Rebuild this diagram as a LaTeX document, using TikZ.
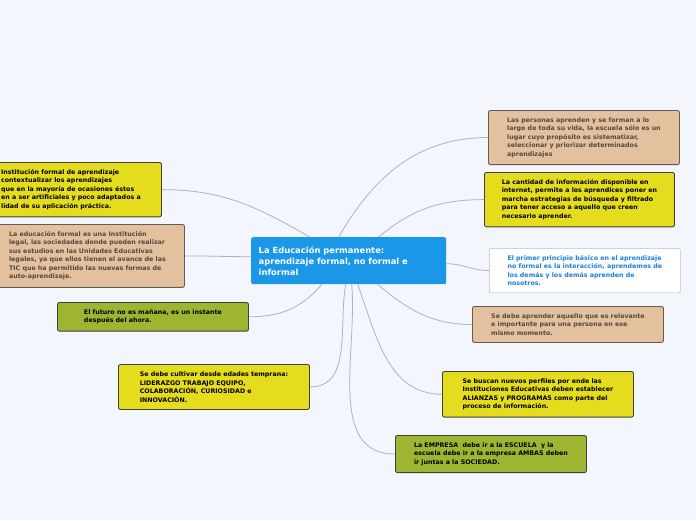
\documentclass[tikz,border=0pt]{standalone}
\usepackage{fontspec}
\setmainfont{DejaVu Sans}
\definecolor{bgBlue}{HTML}{F3F6FD}
\definecolor{mainBlue}{HTML}{1A97E6}
\definecolor{tanFill}{HTML}{E3C19F}
\definecolor{yelFill}{HTML}{E6DC1E}
\definecolor{oliveFill}{HTML}{9DB531}
\definecolor{textGray}{HTML}{54493F}
\definecolor{linkBlue}{HTML}{1A7FD8}

\begin{document}
\begin{tikzpicture}[
    x=1pt, y=-1pt,
    idea/.style={rectangle, draw=black!75, rounded corners=2pt, line width=0.9pt, anchor=north west, align=left, inner sep=7pt, font=\fontsize{6.3}{8.5}\selectfont\bfseries},
    tanidea/.style={idea, fill=tanFill, text=textGray, draw=textGray!90},
    yelidea/.style={idea, fill=yelFill},
    oliveidea/.style={idea, fill=oliveFill},
    link/.style={draw=black!30, line width=0.8pt},
]
    % Canvas
    \fill[bgBlue] (0,0) rectangle (696,520);
    \useasboundingbox (0,0) rectangle (696,520);

    % Central idea
    \node[rectangle, fill=mainBlue, rounded corners=2pt, anchor=north west, minimum width=195pt, minimum height=47pt, text width=180pt, align=left, text=white, font=\fontsize{8.4}{11}\selectfont\bfseries] (main) at (251,237) {La Educación permanente:\\aprendizaje formal, no formal e\\informal};

    % Right ideas
    \node[tanidea, minimum width=191pt, minimum height=52pt] (lifelong) at (488,110) {Las personas aprenden y se forman a lo\\largo de toda su vida, la escuela sólo es un\\lugar cuyo propósito es sistematizar,\\seleccionar y priorizar determinados\\aprendizajes};
    \node[yelidea, minimum width=190pt, minimum height=53pt] (internet) at (484,172) {La cantidad de información disponible en\\internet, permite a los aprendices poner en\\marcha estrategias de búsqueda y filtrado\\para tener acceso a aquello que creen\\necesario aprender.};
    \node[idea, fill=white, draw=black!25, line width=0.6pt, text=linkBlue, minimum width=191pt, minimum height=44pt] (principle) at (489,248) {El primer principio básico en el aprendizaje\\no formal es la interacción, aprendemos de\\los demás y los demás aprenden de\\nosotros.};
    \node[tanidea, minimum width=191pt, minimum height=36pt] (relevant) at (472,306) {Se debe aprender aquello que es relevante\\e importante para una persona en ese\\mismo momento.};
    \node[yelidea, minimum width=191pt, minimum height=45pt] (alliances) at (442,371) {Se buscan nuevos perfiles por ende las\\Instituciones Educativas deben establecer\\ALIANZAS y PROGRAMAS como parte del\\proceso de información.};
    \node[oliveidea, minimum width=191pt, minimum height=36pt] (company) at (395,435) {La EMPRESA\ \ debe ir a la ESCUELA\ \ y la\\escuela debe ir a la empresa AMBAS deben\\ir juntas a la SOCIEDAD.};

    % Left ideas
    \node[yelidea, minimum width=181pt, minimum height=53pt, inner xsep=10pt] (formal) at (-20,162) {Institución formal de aprendizaje\\contextualizar los aprendizajes\\que en la mayoría de ocasiones éstos\\en a ser artificiales y poco adaptados a\\lidad de su aplicación práctica.};
    \node[tanidea, minimum width=194pt, minimum height=62pt, inner xsep=12pt] (legal) at (-10,224) {La educación formal es una Institución\\legal, las sociedades donde pueden realizar\\sus estudios en las Unidades Educativas\\legales, ya que ellos tienen el avance de las\\TIC que ha permitido las nuevas formas de\\auto-aprendizaje.};
    \node[oliveidea, minimum width=191pt, minimum height=27pt] (future) at (57,302) {El futuro no es mañana, es un instante\\después del ahora.};
    \node[yelidea, minimum width=191pt, minimum height=45pt] (skills) at (118,364) {Se debe cultivar desde edades temprana:\\LIDERAZGO TRABAJO EQUIPO,\\COLABORACIÓN, CURIOSIDAD e\\INNOVACIÓN.};

    % Connectors
    \draw[link] ([xshift=-10pt]main.north) to[out=60, in=180] (lifelong.west);
    \draw[link] ([xshift=30pt]main.north) to[out=40, in=180] (internet.west);
    \draw[link] ([yshift=-3pt]main.east) to[out=0, in=180] (principle.west);
    \draw[link] ([xshift=29pt]main.south) to[out=-40, in=180] (relevant.west);
    \draw[link] ([xshift=9pt]main.south) to[out=-70, in=180] (alliances.west);
    \draw[link] ([xshift=3pt]main.south) to[out=-85, in=180] (company.west);
    \draw[link] ([xshift=-39pt]main.north) to[out=150, in=0] (formal.east);
    \draw[link] ([yshift=4pt]main.west) to[out=180, in=0] (legal.east);
    \draw[link] ([xshift=-27pt]main.south) to[out=-130, in=0] (future.east);
    \draw[link] ([xshift=-3pt]main.south) to[out=-100, in=0] (skills.east);
\end{tikzpicture}
\end{document}
